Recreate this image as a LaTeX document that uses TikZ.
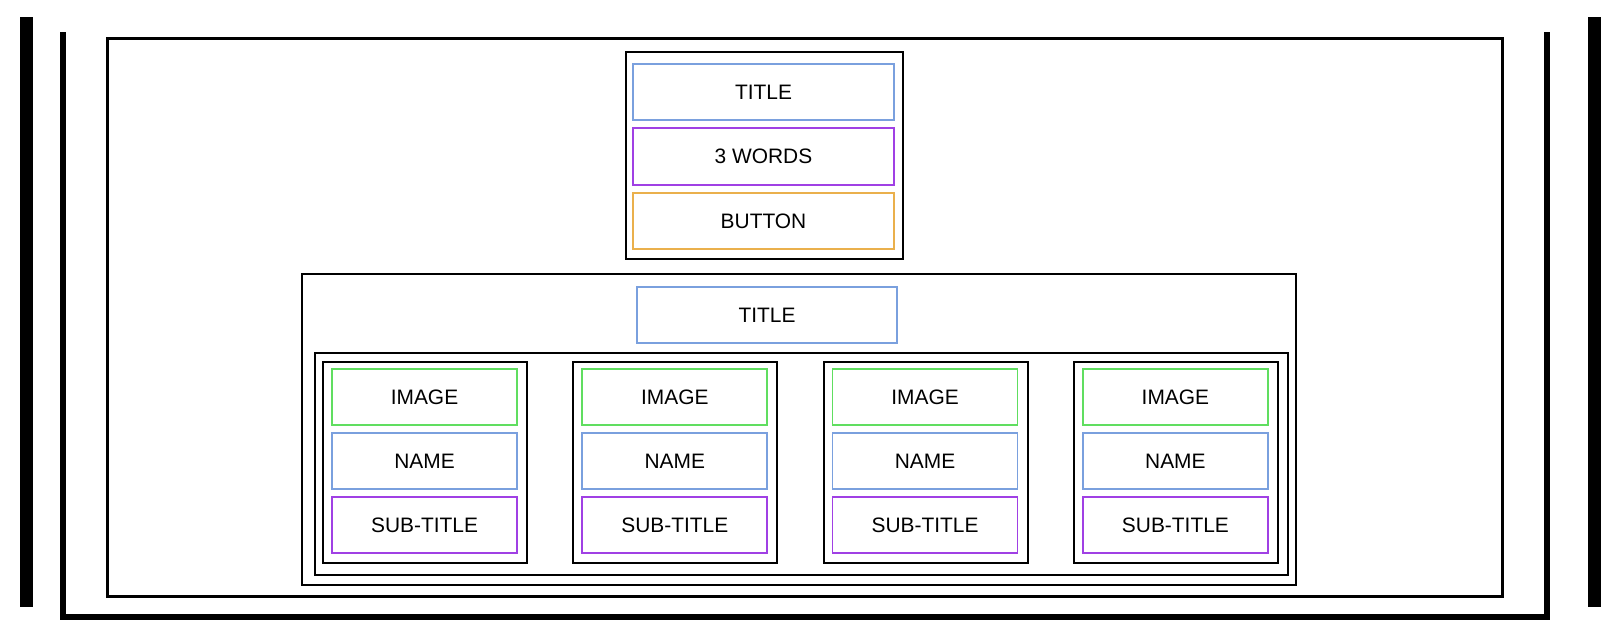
\documentclass[tikz,border=0pt]{standalone}
\usepackage{fontspec}
\setmainfont{Liberation Sans}
\definecolor{titleblue}{RGB}{122,160,222}
\definecolor{wordpurple}{RGB}{160,64,228}
\definecolor{buttonorange}{RGB}{234,176,76}
\definecolor{imagegreen}{RGB}{96,222,96}
\tikzset{
  frame/.style={draw, line width=1.1pt, inner sep=0pt},
  field/.style={draw, line width=1pt, inner sep=0pt,
    minimum width=#1, minimum height=11.3mm,
    font=\fontsize{11.9}{14}\selectfont},
  field/.default=37mm
}
\begin{document}
\begin{tikzpicture}[x=0.2mm,y=-0.2mm]
\useasboundingbox (0,0) rectangle (1618,640);
% outer page marks
\draw[line width=2.6mm] (26.5,17) -- (26.5,607);
\draw[line width=2.6mm] (1594.5,17) -- (1594.5,607);
\draw[line width=1.2mm] (63,32) -- (63,617) -- (1546.5,617) -- (1546.5,32);
\draw[line width=0.6mm] (107.5,38.5) rectangle (1502.5,596.5);
% hero block
\node[frame, minimum width=55.4mm, minimum height=41.4mm] (hero) at (764.5,155.5) {};
\node[field=52.2mm, draw=titleblue] (herotitle) at (763.5,92) {TITLE};
\node[field=52.2mm, draw=wordpurple] (herowords) at (763.5,156.5) {3 WORDS};
\node[field=52.2mm, draw=buttonorange] (herobutton) at (763.5,221) {BUTTON};
% team section
\node[frame, minimum width=198.8mm, minimum height=62.2mm] (section) at (799,429.5) {};
\node[field=52mm, draw=titleblue] (sectiontitle) at (767,315) {TITLE};
\node[frame, minimum width=194.6mm, minimum height=44.4mm] (cards) at (801.5,464) {};
\foreach \i in {0,...,3} {
  \node[frame, minimum width=40.8mm, minimum height=40.2mm] (card\i) at ({425+250.3*\i},462.5) {};
  \node[field, draw=imagegreen] (image\i) at ({424.5+250.3*\i},397) {IMAGE};
  \node[field, draw=titleblue] (name\i) at ({424.5+250.3*\i},461) {NAME};
  \node[field, draw=wordpurple] (subtitle\i) at ({424.5+250.3*\i},525) {SUB-TITLE};
}
\end{tikzpicture}
\end{document}
